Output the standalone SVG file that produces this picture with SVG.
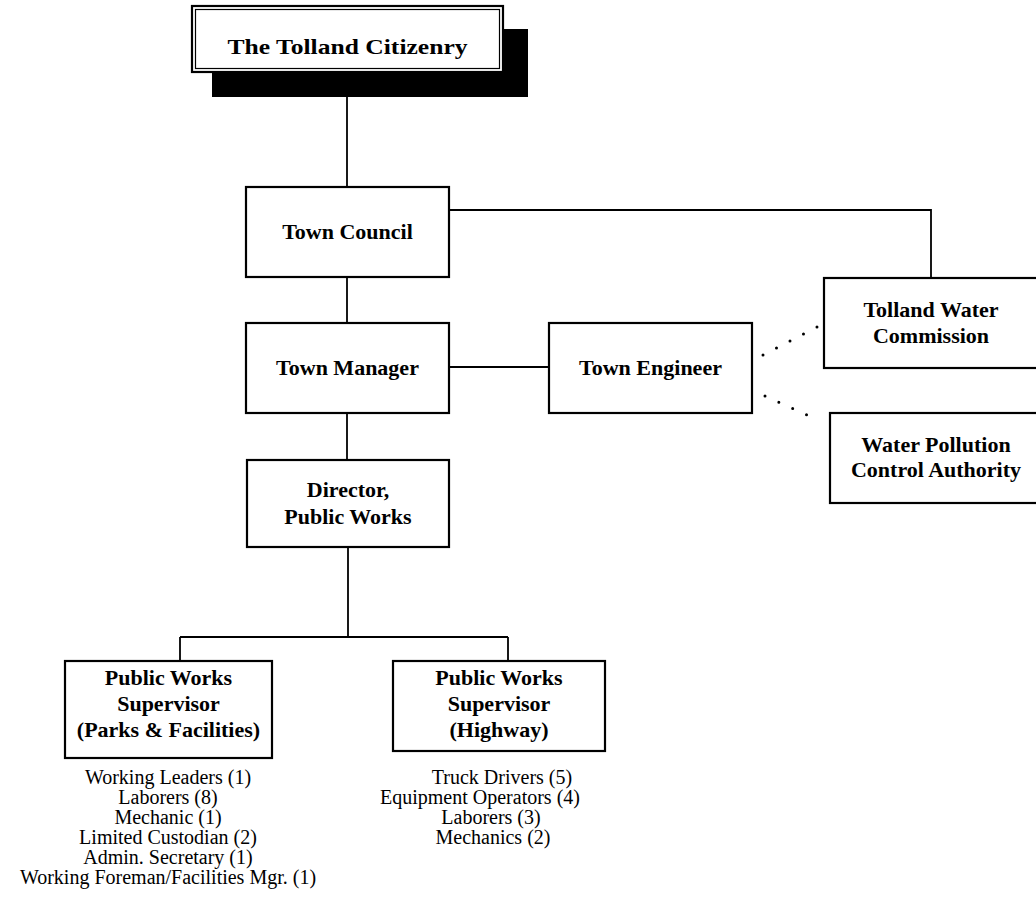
<svg xmlns="http://www.w3.org/2000/svg" width="1036" height="914" viewBox="0 0 1036 914">
<style>
.box{fill:#fff;stroke:#000;stroke-width:2.2}
.t{font-family:"Liberation Serif","Times New Roman",serif;font-weight:bold;font-size:22px;text-anchor:middle;fill:#000}
.l{font-family:"Liberation Serif","Times New Roman",serif;font-size:20px;text-anchor:middle;fill:#000}
.c{fill:none;stroke:#000;stroke-width:1.8}
.d{fill:none;stroke:#000;stroke-width:3;stroke-linecap:round;stroke-dasharray:0 15.2}
</style>
<rect width="1036" height="914" fill="#fff"/>
<g id="connectors">
<path class="c" d="M347,97 V187"/>
<path class="c" d="M449,210 H931 V278"/>
<path class="c" d="M347,277 V323"/>
<path class="c" d="M449,367 H549"/>
<path class="c" d="M347,413 V460"/>
<path class="c" d="M348,547 V637 M180,637 H508 M180,637 V661 M508,637 V661"/>
<path class="d" d="M763,355 L817,327"/>
<path class="d" d="M765,396 L820,421"/>
</g>
<g id="citizenry">
<rect x="212" y="29" width="316" height="68" fill="#000"/>
<rect x="192" y="6" width="311" height="66" fill="#fff" stroke="#000" stroke-width="2.2"/>
<rect x="195.5" y="9.5" width="304" height="59" fill="none" stroke="#000" stroke-width="1.2"/>
<text class="t" x="347.5" y="54" font-size="28" textLength="240" lengthAdjust="spacingAndGlyphs">The Tolland Citizenry</text>
</g>
<g id="town-council">
<rect class="box" x="246" y="187" width="203" height="90"/>
<text class="t" x="347.5" y="239">Town Council</text>
</g>
<g id="water-commission">
<rect class="box" x="824" y="278" width="220" height="90"/>
<text class="t" x="931" y="317">Tolland Water</text>
<text class="t" x="931" y="343">Commission</text>
</g>
<g id="town-manager">
<rect class="box" x="246" y="323" width="203" height="90"/>
<text class="t" x="347.5" y="375">Town Manager</text>
</g>
<g id="town-engineer">
<rect class="box" x="549" y="323" width="203" height="90"/>
<text class="t" x="650.5" y="375">Town Engineer</text>
</g>
<g id="wpca">
<rect class="box" x="830" y="413" width="220" height="90"/>
<text class="t" x="936" y="452">Water Pollution</text>
<text class="t" x="936" y="477">Control Authority</text>
</g>
<g id="director">
<rect class="box" x="247" y="460" width="202" height="87"/>
<text class="t" x="348" y="497">Director,</text>
<text class="t" x="348" y="524">Public Works</text>
</g>
<g id="supervisor-parks">
<rect class="box" x="65" y="661" width="207" height="97"/>
<text class="t" x="168.5" y="685">Public Works</text>
<text class="t" x="168.5" y="711">Supervisor</text>
<text class="t" x="168.5" y="737">(Parks &amp; Facilities)</text>
</g>
<g id="supervisor-highway">
<rect class="box" x="393" y="661" width="212" height="90"/>
<text class="t" x="499" y="685">Public Works</text>
<text class="t" x="499" y="711">Supervisor</text>
<text class="t" x="499" y="737">(Highway)</text>
</g>
<g id="parks-staff">
<text class="l" x="168" y="784">Working Leaders (1)</text>
<text class="l" x="168" y="804">Laborers (8)</text>
<text class="l" x="168" y="824">Mechanic (1)</text>
<text class="l" x="168" y="844">Limited Custodian (2)</text>
<text class="l" x="168" y="864">Admin. Secretary (1)</text>
<text class="l" x="168" y="884">Working Foreman/Facilities Mgr. (1)</text>
</g>
<g id="highway-staff">
<text class="l" x="502" y="784">Truck Drivers (5)</text>
<text class="l" x="480" y="804">Equipment Operators (4)</text>
<text class="l" x="491" y="824">Laborers (3)</text>
<text class="l" x="493" y="844">Mechanics (2)</text>
</g>
</svg>
